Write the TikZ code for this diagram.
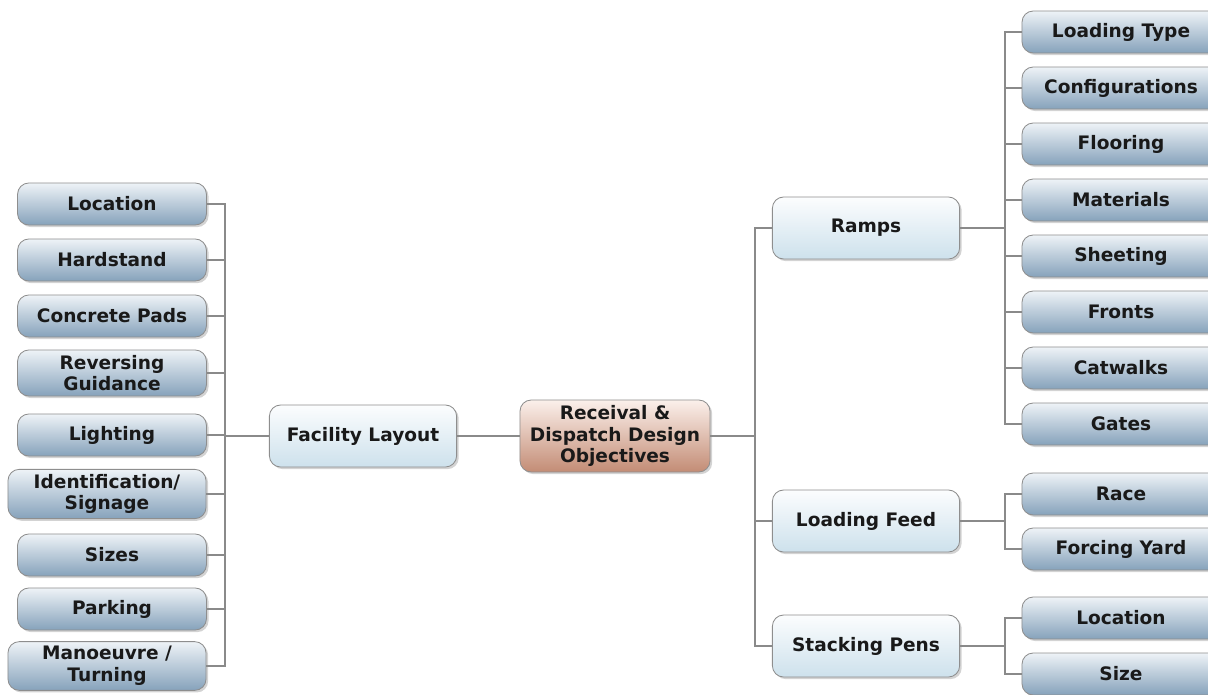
\documentclass[tikz,border=0pt]{standalone}
\usepackage{fontspec}
\setmainfont{DejaVu Sans}
\usepackage{xcolor}
\usetikzlibrary{positioning, shadows}

\definecolor{leaftop}{HTML}{EEF3F7}
\definecolor{leafbot}{HTML}{86A2BB}
\definecolor{midtop}{HTML}{FCFDFE}
\definecolor{midbot}{HTML}{CDE1EC}
\definecolor{roottop}{HTML}{FBF0EB}
\definecolor{rootbot}{HTML}{C38C75}
\definecolor{edgegray}{HTML}{8E8E8E}
\definecolor{linkgray}{HTML}{8A8A8A}

\begin{document}
\begin{tikzpicture}[
    x=0.025cm, y=-0.025cm,
    box/.style={rectangle, rounded corners=8pt, draw=edgegray, line width=0.6pt,
                align=center, text=black!90, font=\fontsize{13.2}{15.5}\selectfont\bfseries,
                drop shadow={opacity=0.35, shadow xshift=1.5pt, shadow yshift=-1.5pt}},
    leaf/.style={box, top color=leaftop, bottom color=leafbot,
                 minimum width=4.72cm, minimum height=1.05cm},
    mid/.style={box, top color=midtop, bottom color=midbot,
                minimum width=4.68cm, minimum height=1.55cm},
    root/.style={box, top color=roottop, bottom color=rootbot,
                 minimum width=4.75cm, minimum height=1.8cm},
    link/.style={draw=linkgray, line width=1.1pt},
]
\useasboundingbox (0,0) rectangle (1208,695);

% Centre node and the left branch
\node[root] (root) at (615,436) {Receival \&\\Dispatch Design\\Objectives};
\node[mid] (layout) at (363,436) {Facility Layout};

% Left leaves
\node[leaf] (loc)   at (112,204) {Location};
\node[leaf] (hard)  at (112,260) {Hardstand};
\node[leaf] (pads)  at (112,316) {Concrete Pads};
\node[leaf, minimum height=1.15cm] (rev)   at (112,373) {Reversing\\Guidance};
\node[leaf] (light) at (112,435) {Lighting};
\node[leaf, minimum width=4.95cm, minimum height=1.2cm] (ident) at (107,494) {Identification/\\Signage};
\node[leaf] (sizes) at (112,555) {Sizes};
\node[leaf] (park)  at (112,609) {Parking};
\node[leaf, minimum width=4.95cm, minimum height=1.2cm] (turn)  at (107,666) {Manoeuvre /\\Turning};

% Right branch
\node[mid] (ramps) at (866,228) {Ramps};
\node[mid] (feed)  at (866,521) {Loading Feed};
\node[mid] (pens)  at (866,646) {Stacking Pens};

% Ramp leaves (cut off by the right margin)
\tikzset{rleaf/.style={leaf, minimum width=4.95cm}}
\node[rleaf] (ltype) at (1121,32)  {Loading Type};
\node[rleaf] (conf)  at (1121,88)  {Configurations};
\node[rleaf] (floor) at (1121,144) {Flooring};
\node[rleaf] (mat)   at (1121,200) {Materials};
\node[rleaf] (sheet) at (1121,256) {Sheeting};
\node[rleaf] (front) at (1121,312) {Fronts};
\node[rleaf] (cat)   at (1121,368) {Catwalks};
\node[rleaf] (gate)  at (1121,424) {Gates};

% Feed and pen leaves
\node[rleaf] (race)  at (1121,494) {Race};
\node[rleaf] (yard)  at (1121,549) {Forcing Yard};
\node[rleaf] (ploc)  at (1121,618) {Location};
\node[rleaf] (psize) at (1121,674) {Size};

% Bus lines
\coordinate (lbus) at (225,0);
\coordinate (cbus) at (755,0);
\coordinate (rbus) at (1005,0);

% === Connectors ===
\draw[link] (root.west) -- (layout.east);
\foreach \n in {loc,hard,pads,rev,light,ident,sizes,park,turn}
  \draw[link] (layout.west) -- (layout.west -| lbus) |- (\n.east);
\foreach \n in {ramps,feed,pens}
  \draw[link] (root.east) -- (root.east -| cbus) |- (\n.west);
\foreach \n in {ltype,conf,floor,mat,sheet,front,cat,gate}
  \draw[link] (ramps.east) -- (ramps.east -| rbus) |- (\n.west);
\foreach \n in {race,yard}
  \draw[link] (feed.east) -- (feed.east -| rbus) |- (\n.west);
\foreach \n in {ploc,psize}
  \draw[link] (pens.east) -- (pens.east -| rbus) |- (\n.west);

\end{tikzpicture}
\end{document}
